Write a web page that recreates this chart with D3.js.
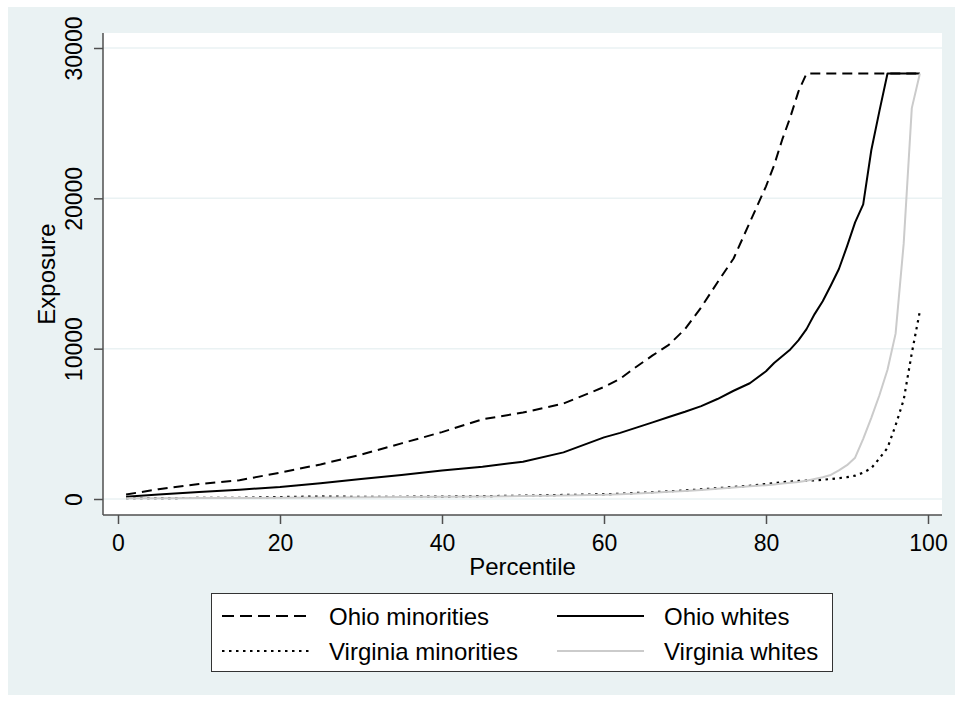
<!DOCTYPE html>
<html>
  <head>
    <meta charset="utf-8">
    <script src="https://d3js.org/d3.v7.min.js"></script>
    <title>Exposure by percentile</title>
    <style>
      body { margin: 0; background: #fff; }
      text { font-family: "Liberation Sans", Arial, sans-serif; fill: #000; }
    </style>
  </head>
  <body>
    <svg width="955" height="701"></svg>
    <script>
      // percentiles
      const percentiles = [1, 5, 10, 15, 20, 25, 30, 35, 40, 45, 50, 55, 60, 62, 64, 66, 68, 70, 72, 74, 76, 78,
        80, 81, 82, 83, 84, 85, 86, 87, 88, 89, 90, 91, 92, 93, 94, 95, 96, 97, 98, 99];

      const ohioMinorities = [300, 650, 1000, 1250, 1750, 2300, 2950, 3700, 4450, 5300, 5750, 6350, 7450, 8000,
        8800, 9550, 10250, 11300, 12750, 14400, 16000, 18400, 20800, 22200, 23900, 25400, 27100, 28300,
        28300, 28300, 28300, 28300, 28300, 28300, 28300, 28300, 28300, 28300, 28300, 28300, 28300, 28300];

      const ohioWhites = [150, 300, 470, 620, 800, 1050, 1330, 1600, 1900, 2150, 2480, 3100, 4100, 4400,
        4750, 5100, 5450, 5800, 6180, 6650, 7200, 7700, 8500, 9050, 9500, 9950, 10550, 11300,
        12300, 13150, 14200, 15300, 16800, 18400, 19600, 23200, 25800, 28300, 28300, 28300, 28300, 28300];

      const virginiaMinorities = [60, 60, 70, 80, 130, 170, 140, 150, 160, 190, 220, 270, 310, 350,
        400, 450, 510, 570, 640, 720, 800, 880, 1000, 1060, 1110, 1160, 1200, 1220,
        1240, 1280, 1330, 1390, 1450, 1550, 1750, 2050, 2700, 3400, 4900, 6600, 9700, 12500];

      const virginiaWhites = [50, 50, 60, 70, 80, 100, 120, 140, 150, 170, 200, 240, 280, 320,
        360, 420, 480, 540, 600, 680, 760, 840, 920, 970, 1030, 1080, 1130, 1220,
        1330, 1450, 1600, 1900, 2250, 2750, 4000, 5400, 6900, 8600, 11000, 17000, 26000, 28300];

      const xTicks = [0, 20, 40, 60, 80, 100];
      const yTicks = [0, 10000, 20000, 30000];

      const series = [
        { name: 'Ohio minorities', values: ohioMinorities, color: '#000', dash: '10,6', legendDash: '12,6', width: 2 },
        { name: 'Ohio whites', values: ohioWhites, color: '#000', dash: null, legendDash: null, width: 2 },
        { name: 'Virginia minorities', values: virginiaMinorities, color: '#000', dash: '2.5,4.5', legendDash: '2.5,4.5', width: 2.2 },
        { name: 'Virginia whites', values: virginiaWhites, color: '#cbcbcb', dash: null, legendDash: null, width: 2 }
      ];

      const plot = { left: 103, right: 942, top: 33, bottom: 515 };
      const bg = '#eaf2f3';
      const axisColor = '#4f4f4f';

      const svg = d3.select('svg');

      svg.append('rect')
          .attr('x', 8).attr('y', 7)
          .attr('width', 947).attr('height', 688)
          .attr('fill', bg);

      svg.append('rect')
          .attr('x', plot.left).attr('y', plot.top)
          .attr('width', plot.right - plot.left).attr('height', plot.bottom - plot.top)
          .attr('fill', '#fff');

      const x = d3.scaleLinear().domain([0, 100]).range([118, 928]);
      const y = d3.scaleLinear().domain([0, 30000]).range([499, 48]);

      // gridlines
      svg.append('g').selectAll('line').data(yTicks)
        .enter().append('line')
          .attr('x1', plot.left).attr('x2', plot.right)
          .attr('y1', d => y(d)).attr('y2', d => y(d))
          .attr('stroke', bg)
          .attr('stroke-width', 1.5);

      // axes
      const yAxisG = svg.append('g')
          .attr('transform', `translate(${plot.left},0)`)
          .call(d3.axisLeft(y).tickValues(yTicks).tickSize(9).tickPadding(0).tickFormat(d3.format('d')));
      yAxisG.select('.domain').attr('d', `M0,${plot.top}V${plot.bottom}`);
      yAxisG.selectAll('.tick text')
          .attr('transform', 'rotate(-90)')
          .attr('x', 0).attr('y', -21)
          .attr('dy', 0)
          .attr('text-anchor', 'middle')
          .style('font-size', '23px');

      const xAxisG = svg.append('g')
          .attr('transform', `translate(0,${plot.bottom})`)
          .call(d3.axisBottom(x).tickValues(xTicks).tickSize(9).tickPadding(0));
      xAxisG.select('.domain').attr('d', `M${plot.left},0H${plot.right}`);
      xAxisG.selectAll('.tick text')
          .attr('y', 36).attr('dy', 0)
          .style('font-size', '23px');

      [yAxisG, xAxisG].forEach(g => {
        g.attr('font-family', null).attr('font-size', null);
        g.select('.domain').attr('stroke', axisColor).attr('stroke-width', 1.5);
        g.selectAll('.tick line').attr('stroke', axisColor).attr('stroke-width', 1.5);
        g.selectAll('.tick text').attr('fill', '#000');
      });

      svg.append('text')
          .attr('transform', `translate(55,${(plot.top + plot.bottom) / 2}) rotate(-90)`)
          .attr('text-anchor', 'middle')
          .style('font-size', '24px')
          .text('Exposure');

      svg.append('text')
          .attr('x', (plot.left + plot.right) / 2)
          .attr('y', 575)
          .attr('text-anchor', 'middle')
          .style('font-size', '24px')
          .text('Percentile');

      // lines
      const line = d3.line()
        .x((d, i) => x(percentiles[i]))
        .y(d => y(d));

      svg.append('g').selectAll('path').data(series)
        .enter().append('path')
          .attr('d', d => line(d.values))
          .attr('fill', 'none')
          .attr('stroke', d => d.color)
          .attr('stroke-width', d => d.width)
          .attr('stroke-dasharray', d => d.dash)
          .attr('stroke-linejoin', 'round');

      // legend
      const legendG = svg.append('g');
      legendG.append('rect')
          .attr('x', 211.5).attr('y', 593.5)
          .attr('width', 621).attr('height', 78)
          .attr('fill', '#fff')
          .attr('stroke', '#333')
          .attr('stroke-width', 1);

      const cells = [
        { s: series[0], lx: 222, ty: 616 },
        { s: series[1], lx: 557, ty: 616 },
        { s: series[2], lx: 222, ty: 651 },
        { s: series[3], lx: 557, ty: 651 }
      ];
      const cell = legendG.selectAll('.cell').data(cells)
        .enter().append('g')
          .attr('class', 'cell');
      cell.append('line')
          .attr('x1', d => d.lx).attr('x2', d => d.lx + 87)
          .attr('y1', d => d.ty).attr('y2', d => d.ty)
          .attr('stroke', d => d.s.color)
          .attr('stroke-width', d => d.s.width)
          .attr('stroke-dasharray', d => d.s.legendDash);
      cell.append('text')
          .attr('x', d => d.lx + 107)
          .attr('y', d => d.ty + 9)
          .style('font-size', '24px')
          .text(d => d.s.name);
    </script>
  </body>
</html>
